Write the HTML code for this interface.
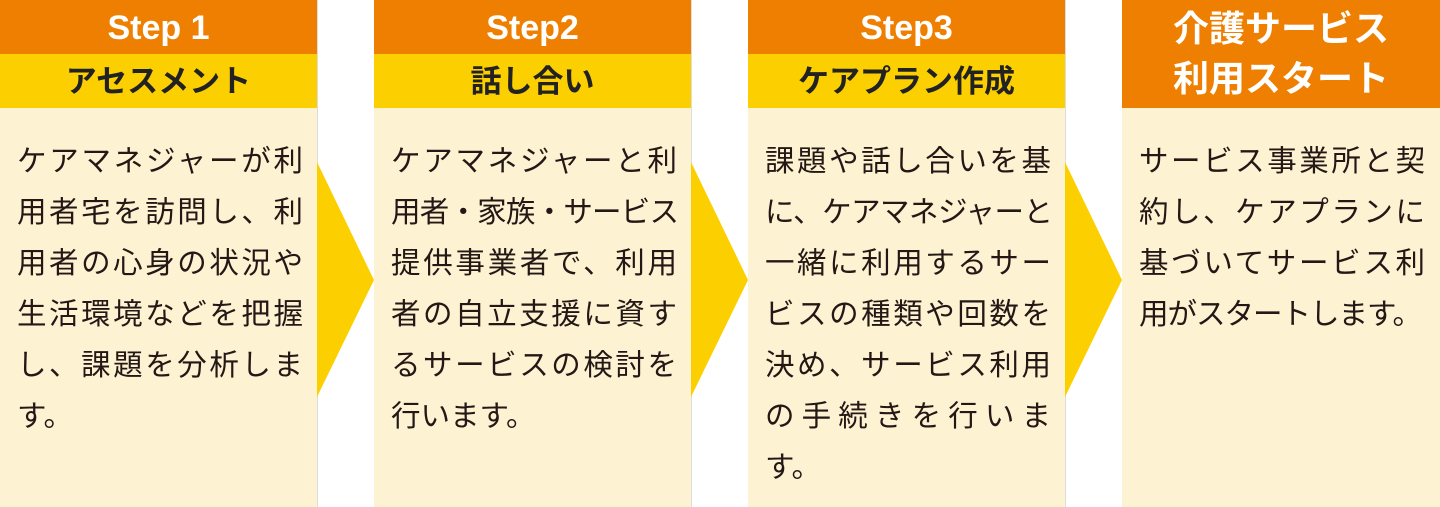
<!DOCTYPE html>
<html><head><meta charset="utf-8"><style>
body{margin:0;width:1440px;height:507px;background:#fff;position:relative;overflow:hidden;font-family:"Liberation Sans","Noto Sans CJK JP",sans-serif;}
.col{position:absolute;top:0;width:318px;height:507px;background:#fdf2d2;border-right:1px solid #ddd;box-sizing:border-box;}
.h1{height:54px;background:#ee7f00;color:#fff;font-weight:bold;font-size:34px;line-height:56px;text-align:center;}
.h2{height:54px;background:#fcd000;color:#222;font-weight:bold;font-size:31px;line-height:56px;text-align:center;}
.h4{height:108px;background:#ee7f00;color:#fff;font-weight:bold;font-size:36px;line-height:50px;text-align:center;padding-top:4px;box-sizing:border-box;}
.body{position:absolute;left:17px;top:136px;width:286px;font-size:29.5px;line-height:51px;color:#231815;}
.body div{text-align:justify;text-align-last:justify;white-space:nowrap;}
.body div.l{text-align-last:left;}
.arr{position:absolute;top:162px;width:57px;height:235px;}
</style></head><body>
<div class="col" style="left:0"><div class="h1">Step 1</div><div class="h2">アセスメント</div>
<div class="body"><div>ケアマネジャーが利</div><div>用者宅を訪問し、利</div><div>用者の心身の状況や</div><div>生活環境などを把握</div><div>し、課題を分析しま</div><div class="l">す。</div></div></div>
<div class="col" style="left:374px"><div class="h1">Step2</div><div class="h2">話し合い</div>
<div class="body"><div>ケアマネジャーと利</div><div style="letter-spacing:-2px">用者・家族・サービス</div><div>提供事業者で、利用</div><div>者の自立支援に資す</div><div>るサービスの検討を</div><div class="l">行います。</div></div></div>
<div class="col" style="left:748px"><div class="h1">Step3</div><div class="h2">ケアプラン作成</div>
<div class="body"><div>課題や話し合いを基</div><div style="letter-spacing:-2px">に、ケアマネジャーと</div><div>一緒に利用するサー</div><div>ビスの種類や回数を</div><div>決め、サービス利用</div><div>の手続きを行いま</div><div class="l">す。</div></div></div>
<div class="col" style="left:1122px;border-right:none"><div class="h4">介護サービス<br>利用スタート</div>
<div class="body"><div>サービス事業所と契</div><div>約し、ケアプランに</div><div>基づいてサービス利</div><div class="l" style="letter-spacing:-1px">用がスタートします。</div></div></div>
<svg class="arr" style="left:317px" viewBox="0 0 57 235"><polygon points="0,0 57,118 0,235" fill="#fcd000"/></svg>
<svg class="arr" style="left:691px" viewBox="0 0 57 235"><polygon points="0,0 57,118 0,235" fill="#fcd000"/></svg>
<svg class="arr" style="left:1065px" viewBox="0 0 57 235"><polygon points="0,0 57,118 0,235" fill="#fcd000"/></svg>
</body></html>
